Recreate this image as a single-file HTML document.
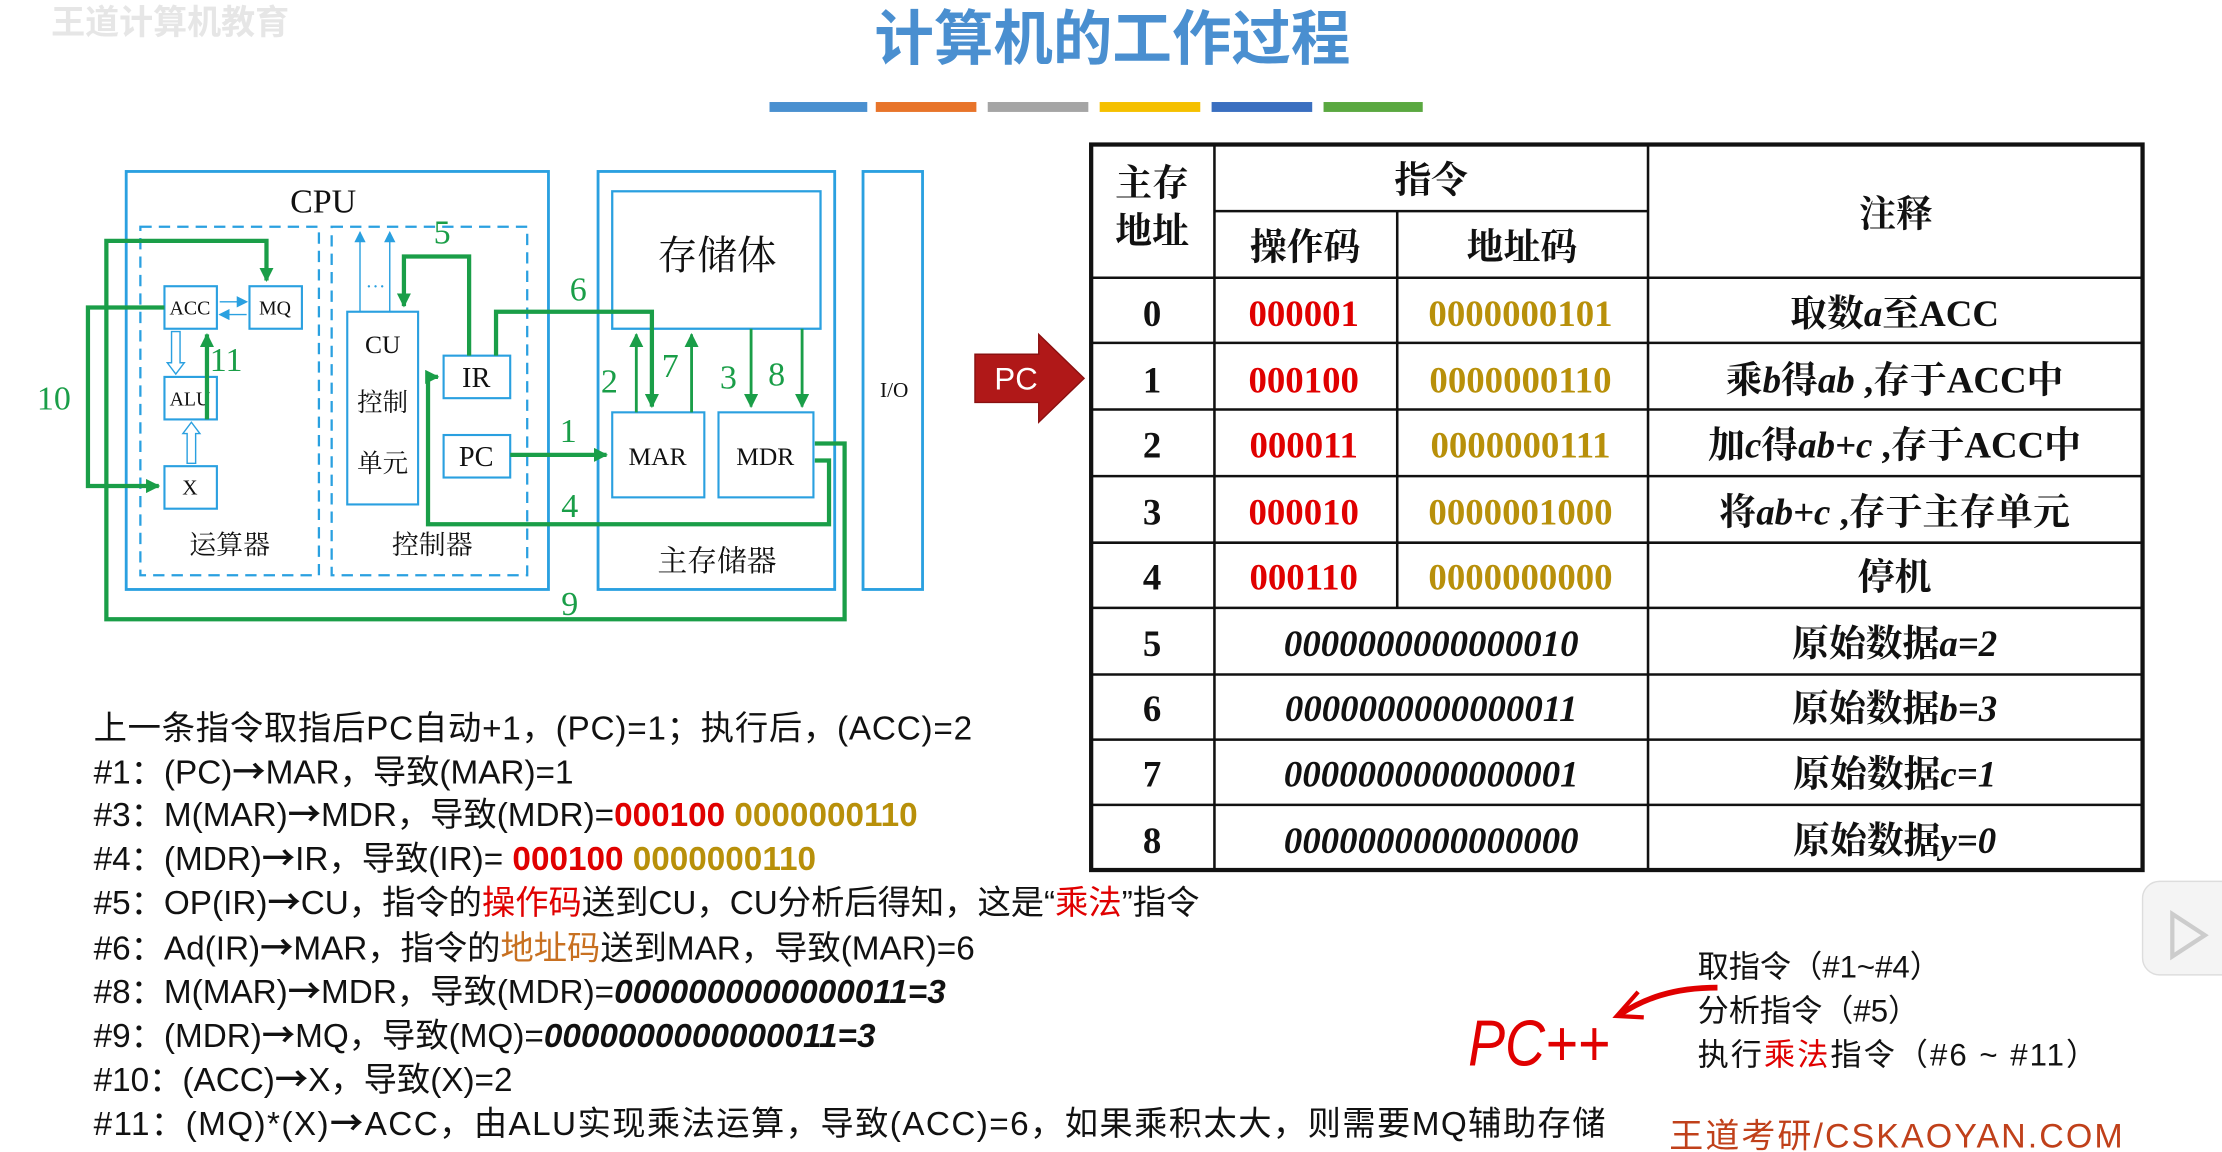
<!DOCTYPE html>
<html><head><meta charset="utf-8"><style>
html,body{margin:0;padding:0;background:#fff;}
svg{display:block;}
.s{font-family:"Liberation Serif","Noto Serif CJK SC",serif;}
.ss{font-family:"Liberation Sans","Noto Sans CJK SC",sans-serif;}
.ar{font-family:"Noto Sans CJK SC",sans-serif;font-weight:bold;}
</style></head><body>
<svg width="2222" height="1152" viewBox="0 0 1568 813" xmlns="http://www.w3.org/2000/svg">
<defs>
<marker id="gs" markerWidth="10" markerHeight="10" refX="9" refY="5" orient="auto" markerUnits="userSpaceOnUse"><path d="M0,0 L10,5 L0,10 Z" fill="#1a9e48"/></marker>
<marker id="ba" markerWidth="8" markerHeight="8" refX="7" refY="4" orient="auto" markerUnits="userSpaceOnUse"><path d="M0,0 L8,4 L0,8 Z" fill="#2aa0e0"/></marker>
</defs>
<rect width="1568" height="813" fill="#fff"/>
<text x="36" y="24" class="ss" font-size="24" fill="#e6e6e6" font-weight="bold">王道计算机教育</text>
<text x="785" y="42" text-anchor="middle" class="ss" font-size="42" fill="#4a8fd0" font-weight="bold">计算机的工作过程</text>
<rect x="543" y="72" width="69" height="7" fill="#4a90d0"/>
<rect x="618" y="72" width="71" height="7" fill="#e8742a"/>
<rect x="697" y="72" width="71" height="7" fill="#a5a5a5"/>
<rect x="776" y="72" width="71" height="7" fill="#f5c000"/>
<rect x="855" y="72" width="71" height="7" fill="#3a6fc0"/>
<rect x="934" y="72" width="70" height="7" fill="#5aa840"/>

<g fill="none" stroke="#2aa0e0" stroke-width="2">
<rect x="89" y="121" width="298" height="295"/>
<rect x="99" y="160" width="126" height="246" stroke-dasharray="8,5" stroke-width="1.6"/>
<rect x="234" y="160" width="138" height="246" stroke-dasharray="8,5" stroke-width="1.6"/>
<rect x="422" y="121" width="167" height="295"/>
<rect x="432" y="135" width="147" height="97" stroke-width="1.6"/>
<rect x="609" y="121" width="42" height="295"/>
<rect x="116" y="202" width="37" height="30" stroke-width="1.5"/>
<rect x="176" y="202" width="37" height="30" stroke-width="1.5"/>
<rect x="116" y="266" width="37" height="30" stroke-width="1.5"/>
<rect x="116" y="329" width="37" height="30" stroke-width="1.5"/>
<rect x="245" y="220" width="50" height="136" stroke-width="1.5"/>
<rect x="313" y="251" width="47" height="30" stroke-width="1.5"/>
<rect x="313" y="307" width="47" height="30" stroke-width="1.5"/>
<rect x="432" y="291" width="65" height="60" stroke-width="1.5"/>
<rect x="507" y="291" width="67" height="60" stroke-width="1.5"/>
</g>
<g stroke="#2aa0e0" stroke-width="1" fill="none">
<line x1="254" y1="220" x2="254" y2="164" marker-end="url(#ba)"/>
<line x1="275" y1="220" x2="275" y2="164" marker-end="url(#ba)"/>
<line x1="155" y1="213" x2="174" y2="213" marker-end="url(#ba)"/>
<line x1="174" y1="222" x2="155" y2="222" marker-end="url(#ba)"/>
<path d="M121,234 V256 H118 L124,264 L130,256 H127 V234 Z"/>
<path d="M132,327 V306 H129 L135,298 L141,306 H138 V327 Z"/>
</g>
<text x="265" y="203" class="s" font-size="14" text-anchor="middle" fill="#2aa0e0">…</text>
<g class="s" fill="#111" text-anchor="middle">
<text x="228" y="150" font-size="24">CPU</text>
<text x="506" y="190" font-size="28">存储体</text>
<text x="631" y="280" font-size="15">I/O</text>
<text x="134" y="222" font-size="14">ACC</text>
<text x="194" y="222" font-size="14">MQ</text>
<text x="134" y="286" font-size="14">ALU</text>
<text x="134" y="349" font-size="15">X</text>
<text x="270" y="249" font-size="18">CU</text>
<text x="270" y="290" font-size="18">控制</text>
<text x="270" y="333" font-size="18">单元</text>
<text x="336" y="273" font-size="20">IR</text>
<text x="336" y="329" font-size="20">PC</text>
<text x="464" y="328" font-size="18">MAR</text>
<text x="540" y="328" font-size="18">MDR</text>
<text x="162" y="391" font-size="19">运算器</text>
<text x="305" y="391" font-size="19">控制器</text>
<text x="506" y="403" font-size="21">主存储器</text>
</g>
<g fill="none" stroke="#1a9e48" stroke-width="3">
<path d="M575,313 H596 V437 H75 V170 H188 V198" marker-end="url(#gs)"/>
<path d="M116,217 H62 V343 H112" marker-end="url(#gs)"/>
<path d="M146,296 V236" marker-end="url(#gs)"/>
<path d="M331,251 V181 H285 V216" marker-end="url(#gs)"/>
<path d="M350,251 V220 H460 V287" marker-end="url(#gs)"/>
<path d="M360,321 H428" marker-end="url(#gs)"/>
<path d="M575,325 H585 V370 H302 V266 H309" marker-end="url(#gs)"/>
</g>
<g fill="none" stroke="#1a9e48" stroke-width="2">
<path d="M449,291 V236" marker-end="url(#gs)"/>
<path d="M488,291 V236" marker-end="url(#gs)"/>
<path d="M530,232 V287" marker-end="url(#gs)"/>
<path d="M566,232 V287" marker-end="url(#gs)"/>
</g>
<g class="s" fill="#1a9e48" font-size="24">
<text x="26" y="289">10</text>
<text x="148" y="262">11</text>
<text x="306" y="172">5</text>
<text x="402" y="212">6</text>
<text x="395" y="312">1</text>
<text x="396" y="365">4</text>
<text x="424" y="277">2</text>
<text x="467" y="266">7</text>
<text x="508" y="274">3</text>
<text x="542" y="272">8</text>
<text x="396" y="434">9</text>
</g>

<path d="M688,250 H733 V236 L765,267 L733,298 V284 H688 Z" fill="#b01818" stroke="#8a1010" stroke-width="1"/>
<text x="717" y="275" class="ss" font-size="22" fill="#fff" text-anchor="middle">PC</text>

<g stroke="#111" fill="none">
<rect x="770" y="102" width="742" height="512" stroke-width="3"/>
<g stroke-width="1.8">
<line x1="857" y1="102" x2="857" y2="614"/>
<line x1="986" y1="149" x2="986" y2="429"/>
<line x1="1163" y1="102" x2="1163" y2="614"/>
<line x1="857" y1="149" x2="1163" y2="149"/>
<line x1="770" y1="196" x2="1512" y2="196"/>
<line x1="770" y1="242" x2="1512" y2="242"/>
<line x1="770" y1="289" x2="1512" y2="289"/>
<line x1="770" y1="336" x2="1512" y2="336"/>
<line x1="770" y1="383" x2="1512" y2="383"/>
<line x1="770" y1="429" x2="1512" y2="429"/>
<line x1="770" y1="476" x2="1512" y2="476"/>
<line x1="770" y1="522" x2="1512" y2="522"/>
<line x1="770" y1="568" x2="1512" y2="568"/>
</g>
</g>
<g class="s" font-size="26" font-weight="bold" text-anchor="middle" fill="#111">
<text x="813" y="138">主存</text>
<text x="813" y="172">地址</text>
<text x="1010" y="136">指令</text>
<text x="921" y="183">操作码</text>
<text x="1074" y="183">地址码</text>
<text x="1338" y="160">注释</text>
<text x="813" y="230">0</text><text x="813" y="277">1</text><text x="813" y="323">2</text><text x="813" y="370">3</text><text x="813" y="416">4</text>
<text x="813" y="463">5</text><text x="813" y="509">6</text><text x="813" y="555">7</text><text x="813" y="602">8</text>
<g fill="#e00000">
<text x="920" y="230">000001</text><text x="920" y="277">000100</text><text x="920" y="323">000011</text><text x="920" y="370">000010</text><text x="920" y="416">000110</text>
</g>
<g fill="#b8900a">
<text x="1073" y="230">0000000101</text><text x="1073" y="277">0000000110</text><text x="1073" y="323">0000000111</text><text x="1073" y="370">0000001000</text><text x="1073" y="416">0000000000</text>
</g>
<g font-style="italic">
<text x="1010" y="463">0000000000000010</text><text x="1010" y="509">0000000000000011</text><text x="1010" y="555">0000000000000001</text><text x="1010" y="602">0000000000000000</text>
</g>
<text x="1337" y="230">取数<tspan font-style="italic">a</tspan>至ACC</text>
<text x="1337" y="277">乘<tspan font-style="italic">b</tspan>得<tspan font-style="italic">ab</tspan> ,存于ACC中</text>
<text x="1337" y="323">加<tspan font-style="italic">c</tspan>得<tspan font-style="italic">ab+c</tspan>  ,存于ACC中</text>
<text x="1337" y="370">将<tspan font-style="italic">ab+c</tspan> ,存于主存单元</text>
<text x="1337" y="416">停机</text>
<text x="1337" y="463">原始数据<tspan font-style="italic">a=2</tspan></text>
<text x="1337" y="509">原始数据<tspan font-style="italic">b=3</tspan></text>
<text x="1337" y="555">原始数据<tspan font-style="italic">c=1</tspan></text>
<text x="1337" y="602">原始数据<tspan font-style="italic">y=0</tspan></text>
</g>

<g class="ss" font-size="23.5" fill="#111">
<text x="66" y="522" textLength="620">上一条指令取指后PC自动+1，(PC)=1；执行后，(ACC)=2</text>
<text x="66" y="553">#1：(PC)<tspan class="ar">→</tspan>MAR，导致(MAR)=1</text>
<text x="66" y="583">#3：M(MAR)<tspan class="ar">→</tspan>MDR，导致(MDR)=<tspan fill="#e00000" font-weight="bold">000100</tspan> <tspan fill="#b8900a" font-weight="bold">0000000110</tspan></text>
<text x="66" y="614">#4：(MDR)<tspan class="ar">→</tspan>IR，导致(IR)= <tspan fill="#e00000" font-weight="bold">000100</tspan> <tspan fill="#b8900a" font-weight="bold">0000000110</tspan></text>
<text x="66" y="645">#5：OP(IR)<tspan class="ar">→</tspan>CU，指令的<tspan fill="#e00000">操作码</tspan>送到CU，CU分析后得知，这是“<tspan fill="#e00000">乘法</tspan>”指令</text>
<text x="66" y="677">#6：Ad(IR)<tspan class="ar">→</tspan>MAR，指令的<tspan fill="#c87020">地址码</tspan>送到MAR，导致(MAR)=6</text>
<text x="66" y="708">#8：M(MAR)<tspan class="ar">→</tspan>MDR，导致(MDR)=<tspan font-weight="bold" font-style="italic">0000000000000011=3</tspan></text>
<text x="66" y="739">#9：(MDR)<tspan class="ar">→</tspan>MQ，导致(MQ)=<tspan font-weight="bold" font-style="italic">0000000000000011=3</tspan></text>
<text x="66" y="770">#10：(ACC)<tspan class="ar">→</tspan>X，导致(X)=2</text>
<text x="66" y="801" textLength="1067">#11：(MQ)*(X)<tspan class="ar">→</tspan>ACC，由ALU实现乘法运算，导致(ACC)=6，如果乘积太大，则需要MQ辅助存储</text>
</g>
<g class="ss" font-size="22" fill="#111">
<text x="1198" y="690">取指令（#1~#4）</text>
<text x="1198" y="721">分析指令（#5）</text>
<text x="1198" y="752" textLength="282">执行<tspan fill="#e00000">乘法</tspan>指令（#6 ~ #11）</text>
</g>
<text x="1036" y="752" class="ss" font-size="46" fill="#e00000" font-style="italic" textLength="100" lengthAdjust="spacingAndGlyphs">PC++</text>
<path d="M1212,697 C1180,697 1160,705 1143,716" stroke="#e00000" stroke-width="4" fill="none"/>
<path d="M1156,700 L1141,717 L1160,718" stroke="#e00000" stroke-width="3" fill="none"/>
<text x="1178" y="810" class="ss" font-size="24" fill="#c0401a" textLength="320">王道考研/CSKAOYAN.COM</text>
<rect x="1512" y="622" width="70" height="66" rx="12" fill="#f4f4f4" stroke="#ddd"/>
<path d="M1533,645 L1556,660 L1533,675 Z" fill="none" stroke="#ccc" stroke-width="3"/>
</svg>
</body></html>
